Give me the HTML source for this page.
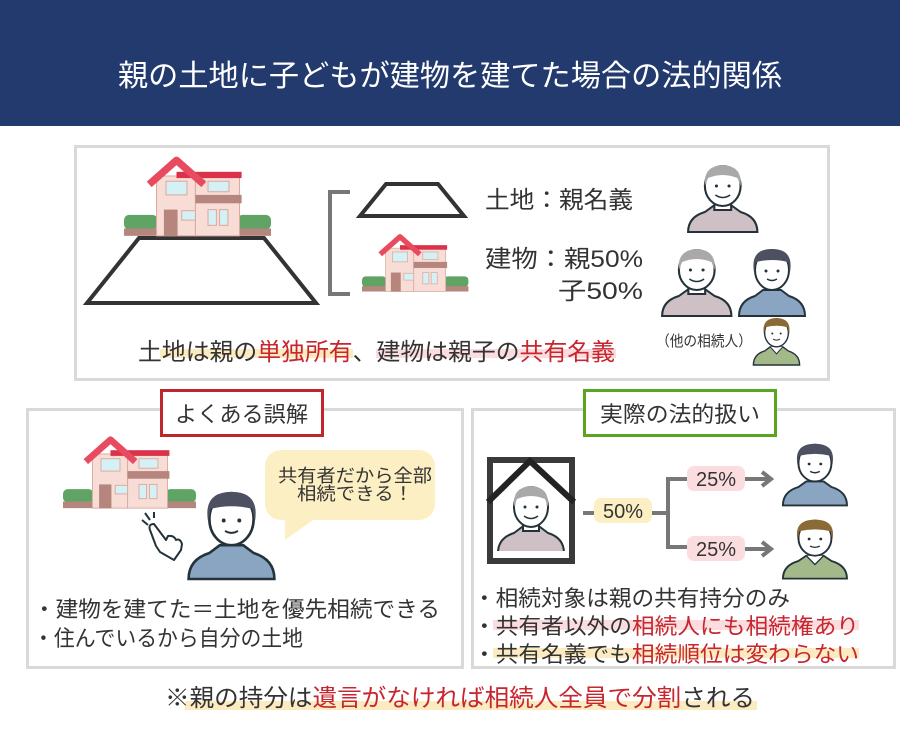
<!DOCTYPE html>
<html><head><meta charset="utf-8"><style>
html,body{margin:0;padding:0;background:#fff}
svg{display:block}
text{font-family:"Liberation Sans","Noto Sans CJK JP",sans-serif;fill:#333}
</style></head><body>
<svg width="900" height="730" viewBox="0 0 900 730" xmlns="http://www.w3.org/2000/svg">
<defs>
<g id="house">
 <rect x="0" y="57" width="32" height="14" rx="5" fill="#5fa464"/>
 <rect x="0" y="70" width="32" height="7" fill="#b5867d"/>
 <rect x="108" y="57" width="32" height="14" rx="5" fill="#5fa464"/>
 <rect x="108" y="70" width="32" height="7" fill="#b5867d"/>
 <rect x="31" y="20" width="37" height="57" fill="#f8ddd6" stroke="#dcaaa0"/>
 <rect x="68" y="20" width="42" height="57" fill="#f8ddd6" stroke="#dcaaa0"/>
 <rect x="50" y="16" width="62" height="6" fill="#d9324a"/>
 <rect x="68" y="38" width="44" height="8" fill="#b5857e"/>
 <polyline points="24,28 50,5 76,28" fill="none" stroke="#e84a5f" stroke-width="7" stroke-linejoin="round"/>
 <rect x="38" y="52" width="13" height="25" fill="#b5857e"/>
 <rect x="40" y="25" width="20" height="13" fill="#d4f1f6" stroke="#dcaaa0"/>
 <rect x="80" y="25" width="20" height="10" fill="#d4f1f6" stroke="#dcaaa0"/>
 <rect x="55" y="53" width="13" height="9" fill="#d4f1f6" stroke="#dcaaa0"/>
 <rect x="80" y="52" width="8" height="15" fill="#d4f1f6" stroke="#dcaaa0"/>
 <rect x="91" y="52" width="8" height="15" fill="#d4f1f6" stroke="#dcaaa0"/>
</g>
<g id="old">
 <path d="M2,70 Q2,55 18,50 L26,44 L44,44 L52,50 Q68,55 68,70 Z" fill="#cfc0c6" stroke="#24323a" stroke-width="2"/>
 <rect x="27" y="36" width="16" height="12" fill="#fff" stroke="#24323a" stroke-width="2"/>
 <ellipse cx="35" cy="24" rx="17" ry="20" fill="#fff" stroke="#24323a" stroke-width="2"/>
 <path d="M18,24 Q16,4 35,3 Q54,4 52,24 L49,16 Q35,10 21,16 Z" fill="#a9a9a9"/>
 <circle cx="29" cy="24" r="1.5" fill="#24323a"/><circle cx="41" cy="24" r="1.5" fill="#24323a"/>
 <path d="M28,33 Q35,38 42,33" fill="none" stroke="#24323a" stroke-width="1.5"/>
</g>
<g id="young">
 <path d="M2,70 Q2,55 18,50 L26,44 L44,44 L52,50 Q68,55 68,70 Z" fill="#8aa5c2" stroke="#24323a" stroke-width="2"/>
 <ellipse cx="35" cy="24" rx="17" ry="20" fill="#fff" stroke="#24323a" stroke-width="2"/>
 <path d="M17,26 Q13,3 35,3 Q57,3 53,26 L51,16 Q35,12 19,16 Z" fill="#4d5060"/>
 <circle cx="29" cy="25" r="1.5" fill="#24323a"/><circle cx="41" cy="25" r="1.5" fill="#24323a"/>
 <path d="M30,33 Q35,36 40,33" fill="none" stroke="#24323a" stroke-width="1.5"/>
</g>
<g id="green">
 <path d="M2,70 Q2,55 18,50 L26,44 L44,44 L52,50 Q68,55 68,70 Z" fill="#a3b98a" stroke="#24323a" stroke-width="2"/>
 <path d="M26,44 L35,54 L44,44" fill="#fff" stroke="#24323a" stroke-width="1.5"/>
 <ellipse cx="35" cy="24" rx="17" ry="20" fill="#fff" stroke="#24323a" stroke-width="2"/>
 <path d="M17,26 Q13,3 35,3 Q57,3 53,26 L51,16 Q35,12 19,16 Z" fill="#8b6a35"/>
 <circle cx="29" cy="25" r="1.5" fill="#24323a"/><circle cx="41" cy="25" r="1.5" fill="#24323a"/>
 <path d="M30,33 Q35,36 40,33" fill="none" stroke="#24323a" stroke-width="1.5"/>
</g>
</defs>

<rect x="0" y="0" width="900" height="126" fill="#233a6e"/>
<text x="118" y="86" font-size="30" style="fill:#fff" textLength="664" lengthAdjust="spacingAndGlyphs">親の土地に子どもが建物を建てた場合の法的関係</text>

<!-- box1 -->
<rect x="75.5" y="146.5" width="753" height="233" fill="#fff" stroke="#d9d9d9" stroke-width="3"/>
<polygon points="139,238 264,238 316,303 87,303" fill="none" stroke="#333" stroke-width="4" stroke-linejoin="miter"/>
<use href="#house" transform="translate(124,155) scale(1.05)"/>
<polyline points="350,192 330,192 330,294 350,294" fill="none" stroke="#777" stroke-width="4"/>
<polygon points="386,184 438,184 464,216 360,216" fill="none" stroke="#333" stroke-width="4"/>
<use href="#house" transform="translate(362,233) scale(0.76)"/>
<text x="485" y="208" font-size="24" textLength="148" lengthAdjust="spacingAndGlyphs">土地：親名義</text>
<text x="485" y="267" font-size="24" textLength="158" lengthAdjust="spacingAndGlyphs">建物：親50%</text>
<text x="558" y="299" font-size="24" textLength="85" lengthAdjust="spacingAndGlyphs">子50%</text>
<use href="#old" transform="translate(686,162) scale(1.05,1.0)"/>
<use href="#old" transform="translate(660,246) scale(1.05,1.0)"/>
<use href="#young" transform="translate(737,246) scale(1.0,1.0)"/>
<use href="#green" transform="translate(752,316) scale(0.7)"/>
<text x="656" y="346" font-size="15" textLength="96" lengthAdjust="spacingAndGlyphs">（他の相続人）</text>
<rect x="160" y="349" width="193" height="9" fill="#fcebc0"/>
<rect x="376" y="349" width="240" height="9" fill="#fbdde0"/>
<text x="138" y="360" font-size="24" textLength="477" lengthAdjust="spacingAndGlyphs">土地は親の<tspan style="fill:#c7262f">単独所有</tspan>、建物は親子の<tspan style="fill:#c7262f">共有名義</tspan></text>

<!-- box2 -->
<rect x="27.5" y="409.5" width="435" height="258" fill="#fff" stroke="#d9d9d9" stroke-width="3"/>
<rect x="161.5" y="390.5" width="161" height="45" fill="#fff" stroke="#c0272d" stroke-width="3"/>
<text x="175" y="422" font-size="22" textLength="133" lengthAdjust="spacingAndGlyphs">よくある誤解</text>
<use href="#house" transform="translate(63,435) scale(0.95)"/>
<g fill="none" stroke="#24323a" stroke-width="2" stroke-linejoin="round">
 <path d="M150,530 Q148,524 154,524 L166,540 L168,536 Q174,535 176,540 Q180,538 182,544 L181,550 L174,560 L160,552 L156,546 Z"/>
 <path d="M142,520 L148,525 M145,513 L150,520 M154,512 L154,518"/>
</g>
<use href="#young" transform="translate(186,488) scale(1.3)"/>
<rect x="265" y="450" width="170" height="70" rx="16" fill="#fdefc4"/>
<polygon points="285,515 285,540 320,515" fill="#fdefc4"/>
<text x="278" y="482" font-size="18" textLength="154" lengthAdjust="spacingAndGlyphs">共有者だから全部</text>
<text x="297" y="500" font-size="18" textLength="116" lengthAdjust="spacingAndGlyphs">相続できる！</text>
<text x="33" y="617" font-size="22" textLength="407" lengthAdjust="spacingAndGlyphs">・建物を建てた＝土地を優先相続できる</text>
<text x="33" y="646" font-size="22" textLength="270" lengthAdjust="spacingAndGlyphs">・住んでいるから自分の土地</text>

<!-- box3 -->
<rect x="472.5" y="409.5" width="422" height="258" fill="#fff" stroke="#d9d9d9" stroke-width="3"/>
<rect x="584.5" y="390.5" width="191" height="45" fill="#fff" stroke="#5aa51f" stroke-width="3"/>
<text x="600" y="422" font-size="22" textLength="160" lengthAdjust="spacingAndGlyphs">実際の法的扱い</text>
<rect x="490" y="460" width="82" height="101" fill="#fff" stroke="#3a3a3a" stroke-width="6"/>
<use href="#old" transform="translate(496,483) scale(1.0)"/>
<rect x="493" y="551" width="76" height="7" fill="#fff"/>
<polyline points="488,502 530,461 574,502" fill="none" stroke="#222" stroke-width="6"/>
<g stroke="#777" stroke-width="4" fill="none">
 <line x1="583" y1="513" x2="670" y2="513"/>
 <polyline points="688,479 668,479 668,547 688,547"/>
 <line x1="745" y1="479" x2="770" y2="479"/>
 <line x1="745" y1="549" x2="770" y2="549"/>
 <polyline points="762,472 771,479 762,486"/>
 <polyline points="762,542 771,549 762,556"/>
</g>
<rect x="594" y="498" width="58" height="25" rx="7" fill="#fdefc4"/>
<text x="623" y="518" text-anchor="middle" font-size="20">50%</text>
<rect x="687" y="466" width="58" height="25" rx="7" fill="#fbdde0"/>
<text x="716" y="486" text-anchor="middle" font-size="20">25%</text>
<rect x="687" y="536" width="58" height="25" rx="7" fill="#fbdde0"/>
<text x="716" y="556" text-anchor="middle" font-size="20">25%</text>
<use href="#young" transform="translate(781,441) scale(0.97,0.92)"/>
<use href="#green" transform="translate(781,517) scale(0.97,0.88)"/>
<rect x="493" y="620" width="366" height="10" fill="#fbdde0"/>
<rect x="493" y="648" width="366" height="10" fill="#fcebc0"/>
<text x="473" y="606" font-size="22" textLength="317" lengthAdjust="spacingAndGlyphs">・相続対象は親の共有持分のみ</text>
<text x="473" y="634" font-size="22" textLength="386" lengthAdjust="spacingAndGlyphs">・共有者以外の<tspan style="fill:#c7262f">相続人にも相続権あり</tspan></text>
<text x="473" y="662" font-size="22" textLength="386" lengthAdjust="spacingAndGlyphs">・共有名義でも<tspan style="fill:#c7262f">相続順位は変わらない</tspan></text>

<rect x="185" y="701" width="572" height="9" fill="#fcebc0"/>
<text x="165" y="706" font-size="24" textLength="590" lengthAdjust="spacingAndGlyphs">※親の持分は<tspan style="fill:#c7262f">遺言がなければ相続人全員で分割</tspan>される</text>
</svg>
</body></html>
